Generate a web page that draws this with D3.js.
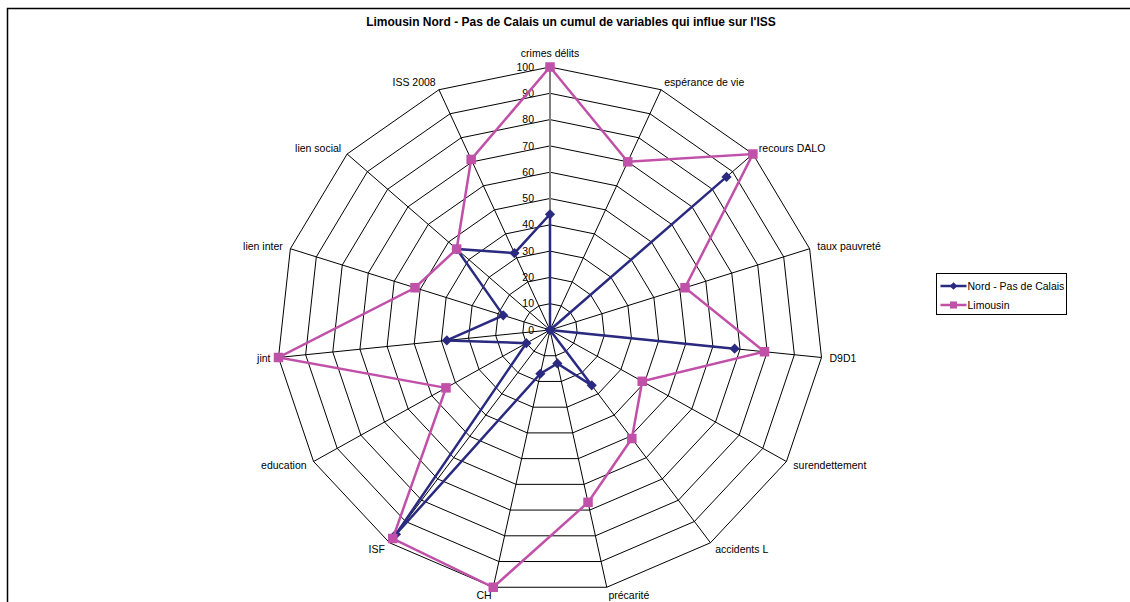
<!DOCTYPE html>
<html>
<head>
<meta charset="utf-8">
<script src="https://cdn.jsdelivr.net/npm/d3@7"></script>
<style>
body { margin: 0; background: #fff; }
text { font-family: "Liberation Sans", Arial, sans-serif; fill: #000; }
</style>
</head>
<body>
<div id="chart"></div>
<script>
const categories = ["crimes délits", "espérance de vie", "recours DALO", "taux pauvreté", "D9D1", "surendettement", "accidents L", "précarité", "CH", "ISF", "education", "jint", "lien inter", "lien social", "ISS 2008"]
const nordValues = [44, 0, 87, 0, 68, 0, 26, 13, 17, 96, 10, 38, 18, 46, 32]
const limousinValues = [100, 70, 100, 52, 79, 39, 51, 67, 100, 98, 44, 100, 52, 46, 71]
const ticks = [0, 10, 20, 30, 40, 50, 60, 70, 80, 90, 100]
const seriesNames = ["Nord - Pas de Calais", "Limousin"]

const width = 1130, height = 602
const cx = 550, cy = 330
const navy = "#2a2a80", pink = "#c050a8"

const svg = d3.select("#chart").append("svg").attr("width", width).attr("height", height)

// chart frame
svg.append("rect").attr("x", 7.5).attr("y", 8.5).attr("width", 1140).attr("height", 620)
	.attr("fill", "none").attr("stroke", "#000").attr("stroke-width", 1.5)

svg.append("text").attr("x", 571).attr("y", 26).attr("text-anchor", "middle")
	.style("font-size", "12px").style("font-weight", "bold")
	.text("Limousin Nord - Pas de Calais un cumul de variables qui influe sur l'ISS")

const angle = d3.scaleLinear().domain([0, categories.length]).range([0, 2 * Math.PI])
const rx = d3.scaleLinear().domain([0, 100]).range([0, 273])
const ry = d3.scaleLinear().domain([0, 100]).range([0, 263])

const px = (i, v) => cx + rx(v) * Math.sin(angle(i))
const py = (i, v) => cy - ry(v) * Math.cos(angle(i))

const radarLine = d3.line().x(d => px(d.i, d.v)).y(d => py(d.i, d.v)).curve(d3.curveLinearClosed)

const grid = svg.append("g")

// rings
grid.selectAll(".ring")
	.data(ticks.filter(t => t > 0))
	.enter()
	.append("path")
	.attr("d", t => radarLine(categories.map((c, i) => ({ i, v: t }))))
	.attr("fill", "none")
	.attr("stroke", "#000")
	.attr("stroke-width", 1)

// spokes
grid.selectAll(".spoke")
	.data(categories)
	.enter()
	.append("line")
	.attr("x1", cx).attr("y1", cy)
	.attr("x2", (d, i) => px(i, 100))
	.attr("y2", (d, i) => py(i, 100))
	.attr("stroke", (d, i) => i === 0 ? "#808080" : "#000")
	.attr("stroke-width", (d, i) => i === 0 ? 2 : 1)

// value axis labels
grid.selectAll(".tick")
	.data(ticks)
	.enter()
	.append("text")
	.attr("x", cx - 16)
	.attr("y", t => py(0, t))
	.attr("dy", "0.35em")
	.attr("text-anchor", "end")
	.style("font-size", "10.5px")
	.text(t => t)

// category labels
grid.selectAll(".cat")
	.data(categories)
	.enter()
	.append("text")
	.attr("x", (d, i) => cx + (rx(100) + 8) * Math.sin(angle(i)))
	.attr("y", (d, i) => cy - (ry(100) + 8) * Math.cos(angle(i)) - (i === 0 ? 6 : 0))
	.attr("dy", "0.35em")
	.attr("text-anchor", (d, i) => {
		const s = Math.sin(angle(i))
		return s > 0.1 ? "start" : s < -0.1 ? "end" : "middle"
	})
	.style("font-size", "10.5px")
	.text(d => d)

const series = [
	{ name: seriesNames[0], values: nordValues, color: navy, rot: 45, size: 52 },
	{ name: seriesNames[1], values: limousinValues, color: pink, rot: 0, size: 90 },
]

series.forEach(s => {
	const pts = s.values.map((v, i) => ({ i, v }))
	svg.append("path")
		.attr("d", radarLine(pts))
		.attr("fill", "none")
		.attr("stroke", s.color)
		.attr("stroke-width", 2.5)
	svg.selectAll(null)
		.data(pts)
		.enter()
		.append("path")
		.attr("d", d3.symbol().type(d3.symbolSquare).size(s.size))
		.attr("transform", d => `translate(${px(d.i, d.v)},${py(d.i, d.v)}) rotate(${s.rot})`)
		.attr("fill", s.color)
})

// legend
const legend = svg.append("g").attr("transform", "translate(936.5, 273.5)")
legend.append("rect").attr("width", 130).attr("height", 41).attr("fill", "#fff")
	.attr("stroke", "#000").attr("stroke-width", 1)

const item = legend.selectAll(".legend")
	.data(series)
	.enter()
	.append("g")
	.attr("transform", (d, i) => `translate(4, ${i * 19 + 12.5})`)

item.append("line").attr("x1", 0).attr("x2", 26).attr("stroke", d => d.color).attr("stroke-width", 2.5)
item.append("path")
	.attr("d", d => d3.symbol().type(d3.symbolSquare).size(d.rot ? 30 : 50)())
	.attr("transform", d => `translate(13,0) rotate(${d.rot})`)
	.attr("fill", d => d.color)
item.append("text").attr("x", 27).attr("dy", "0.35em").style("font-size", "10.5px").text(d => d.name)
</script>
</body>
</html>
